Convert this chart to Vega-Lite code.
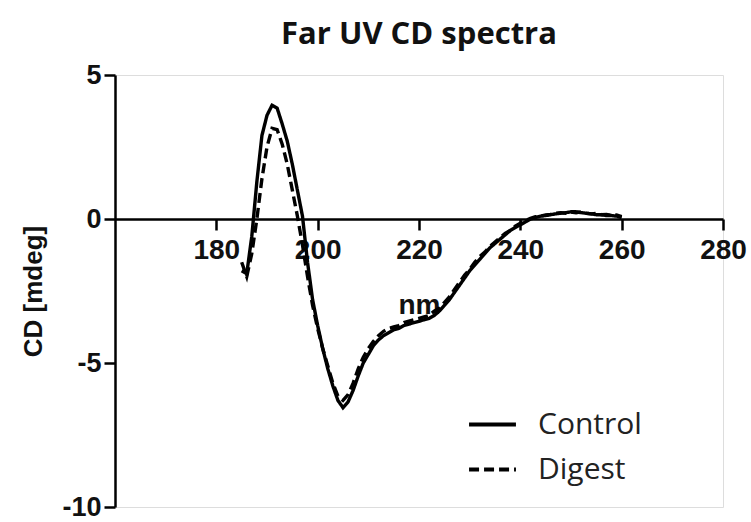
{
  "$schema": "https://vega.github.io/schema/vega-lite/v6.json",
  "autosize": {"type": "none"},
  "width": 608,
  "height": 432,
  "padding": {"left": 115, "top": 75, "right": 28, "bottom": 15},
  "background": "white",
  "title": {"text": "Far UV CD spectra", "font": "Open Sans", "fontSize": 31, "fontWeight": "bold", "color": "#111", "anchor": "middle", "offset": 10},
  "datasets": {
    "cd": [
      {"nm": 185, "cd": -1.8, "series": "Control"},
      {"nm": 186, "cd": -1.9, "series": "Control"},
      {"nm": 187, "cd": -0.6, "series": "Control"},
      {"nm": 188, "cd": 1.3, "series": "Control"},
      {"nm": 189, "cd": 2.9, "series": "Control"},
      {"nm": 190, "cd": 3.6, "series": "Control"},
      {"nm": 191, "cd": 3.95, "series": "Control"},
      {"nm": 192, "cd": 3.85, "series": "Control"},
      {"nm": 193, "cd": 3.3, "series": "Control"},
      {"nm": 194, "cd": 2.7, "series": "Control"},
      {"nm": 195, "cd": 1.9, "series": "Control"},
      {"nm": 196, "cd": 1.0, "series": "Control"},
      {"nm": 197, "cd": 0.1, "series": "Control"},
      {"nm": 198, "cd": -1.5, "series": "Control"},
      {"nm": 199, "cd": -2.8, "series": "Control"},
      {"nm": 200, "cd": -3.7, "series": "Control"},
      {"nm": 201, "cd": -4.5, "series": "Control"},
      {"nm": 202, "cd": -5.2, "series": "Control"},
      {"nm": 203, "cd": -5.8, "series": "Control"},
      {"nm": 204, "cd": -6.3, "series": "Control"},
      {"nm": 205, "cd": -6.55, "series": "Control"},
      {"nm": 206, "cd": -6.35, "series": "Control"},
      {"nm": 207, "cd": -5.95, "series": "Control"},
      {"nm": 208, "cd": -5.45, "series": "Control"},
      {"nm": 209, "cd": -5.0, "series": "Control"},
      {"nm": 210, "cd": -4.7, "series": "Control"},
      {"nm": 211, "cd": -4.4, "series": "Control"},
      {"nm": 212, "cd": -4.2, "series": "Control"},
      {"nm": 213, "cd": -4.05, "series": "Control"},
      {"nm": 214, "cd": -3.95, "series": "Control"},
      {"nm": 215, "cd": -3.85, "series": "Control"},
      {"nm": 216, "cd": -3.8, "series": "Control"},
      {"nm": 217, "cd": -3.7, "series": "Control"},
      {"nm": 218, "cd": -3.65, "series": "Control"},
      {"nm": 219, "cd": -3.6, "series": "Control"},
      {"nm": 220, "cd": -3.55, "series": "Control"},
      {"nm": 221, "cd": -3.5, "series": "Control"},
      {"nm": 222, "cd": -3.45, "series": "Control"},
      {"nm": 223, "cd": -3.35, "series": "Control"},
      {"nm": 224, "cd": -3.2, "series": "Control"},
      {"nm": 225, "cd": -3.0, "series": "Control"},
      {"nm": 226, "cd": -2.8, "series": "Control"},
      {"nm": 227, "cd": -2.55, "series": "Control"},
      {"nm": 228, "cd": -2.3, "series": "Control"},
      {"nm": 229, "cd": -2.05, "series": "Control"},
      {"nm": 230, "cd": -1.8, "series": "Control"},
      {"nm": 231, "cd": -1.6, "series": "Control"},
      {"nm": 232, "cd": -1.4, "series": "Control"},
      {"nm": 233, "cd": -1.2, "series": "Control"},
      {"nm": 234, "cd": -1.0, "series": "Control"},
      {"nm": 235, "cd": -0.85, "series": "Control"},
      {"nm": 236, "cd": -0.7, "series": "Control"},
      {"nm": 237, "cd": -0.55, "series": "Control"},
      {"nm": 238, "cd": -0.4, "series": "Control"},
      {"nm": 239, "cd": -0.3, "series": "Control"},
      {"nm": 240, "cd": -0.2, "series": "Control"},
      {"nm": 241, "cd": -0.1, "series": "Control"},
      {"nm": 242, "cd": 0.0, "series": "Control"},
      {"nm": 243, "cd": 0.05, "series": "Control"},
      {"nm": 244, "cd": 0.1, "series": "Control"},
      {"nm": 245, "cd": 0.12, "series": "Control"},
      {"nm": 246, "cd": 0.15, "series": "Control"},
      {"nm": 247, "cd": 0.18, "series": "Control"},
      {"nm": 248, "cd": 0.2, "series": "Control"},
      {"nm": 249, "cd": 0.22, "series": "Control"},
      {"nm": 250, "cd": 0.25, "series": "Control"},
      {"nm": 251, "cd": 0.25, "series": "Control"},
      {"nm": 252, "cd": 0.22, "series": "Control"},
      {"nm": 253, "cd": 0.2, "series": "Control"},
      {"nm": 254, "cd": 0.18, "series": "Control"},
      {"nm": 255, "cd": 0.15, "series": "Control"},
      {"nm": 256, "cd": 0.15, "series": "Control"},
      {"nm": 257, "cd": 0.12, "series": "Control"},
      {"nm": 258, "cd": 0.12, "series": "Control"},
      {"nm": 259, "cd": 0.1, "series": "Control"},
      {"nm": 260, "cd": 0.05, "series": "Control"},
      {"nm": 185, "cd": -1.5, "series": "Digest"},
      {"nm": 186, "cd": -2.0, "series": "Digest"},
      {"nm": 187, "cd": -1.2, "series": "Digest"},
      {"nm": 188, "cd": 0.0, "series": "Digest"},
      {"nm": 189, "cd": 1.4, "series": "Digest"},
      {"nm": 190, "cd": 2.5, "series": "Digest"},
      {"nm": 191, "cd": 3.15, "series": "Digest"},
      {"nm": 192, "cd": 3.1, "series": "Digest"},
      {"nm": 193, "cd": 2.6, "series": "Digest"},
      {"nm": 194, "cd": 1.9, "series": "Digest"},
      {"nm": 195, "cd": 1.0, "series": "Digest"},
      {"nm": 196, "cd": 0.1, "series": "Digest"},
      {"nm": 197, "cd": -0.9, "series": "Digest"},
      {"nm": 198, "cd": -2.0, "series": "Digest"},
      {"nm": 199, "cd": -3.0, "series": "Digest"},
      {"nm": 200, "cd": -3.8, "series": "Digest"},
      {"nm": 201, "cd": -4.5, "series": "Digest"},
      {"nm": 202, "cd": -5.1, "series": "Digest"},
      {"nm": 203, "cd": -5.7, "series": "Digest"},
      {"nm": 204, "cd": -6.15, "series": "Digest"},
      {"nm": 205, "cd": -6.3, "series": "Digest"},
      {"nm": 206, "cd": -6.1, "series": "Digest"},
      {"nm": 207, "cd": -5.7, "series": "Digest"},
      {"nm": 208, "cd": -5.2, "series": "Digest"},
      {"nm": 209, "cd": -4.8, "series": "Digest"},
      {"nm": 210, "cd": -4.5, "series": "Digest"},
      {"nm": 211, "cd": -4.25, "series": "Digest"},
      {"nm": 212, "cd": -4.05, "series": "Digest"},
      {"nm": 213, "cd": -3.9, "series": "Digest"},
      {"nm": 214, "cd": -3.8, "series": "Digest"},
      {"nm": 215, "cd": -3.75, "series": "Digest"},
      {"nm": 216, "cd": -3.7, "series": "Digest"},
      {"nm": 217, "cd": -3.6, "series": "Digest"},
      {"nm": 218, "cd": -3.55, "series": "Digest"},
      {"nm": 219, "cd": -3.5, "series": "Digest"},
      {"nm": 220, "cd": -3.45, "series": "Digest"},
      {"nm": 221, "cd": -3.4, "series": "Digest"},
      {"nm": 222, "cd": -3.35, "series": "Digest"},
      {"nm": 223, "cd": -3.2, "series": "Digest"},
      {"nm": 224, "cd": -3.1, "series": "Digest"},
      {"nm": 225, "cd": -2.9, "series": "Digest"},
      {"nm": 226, "cd": -2.7, "series": "Digest"},
      {"nm": 227, "cd": -2.45, "series": "Digest"},
      {"nm": 228, "cd": -2.2, "series": "Digest"},
      {"nm": 229, "cd": -1.95, "series": "Digest"},
      {"nm": 230, "cd": -1.75, "series": "Digest"},
      {"nm": 231, "cd": -1.5, "series": "Digest"},
      {"nm": 232, "cd": -1.3, "series": "Digest"},
      {"nm": 233, "cd": -1.15, "series": "Digest"},
      {"nm": 234, "cd": -0.95, "series": "Digest"},
      {"nm": 235, "cd": -0.8, "series": "Digest"},
      {"nm": 236, "cd": -0.65, "series": "Digest"},
      {"nm": 237, "cd": -0.5, "series": "Digest"},
      {"nm": 238, "cd": -0.4, "series": "Digest"},
      {"nm": 239, "cd": -0.25, "series": "Digest"},
      {"nm": 240, "cd": -0.15, "series": "Digest"},
      {"nm": 241, "cd": -0.05, "series": "Digest"},
      {"nm": 242, "cd": 0.02, "series": "Digest"},
      {"nm": 243, "cd": 0.08, "series": "Digest"},
      {"nm": 244, "cd": 0.1, "series": "Digest"},
      {"nm": 245, "cd": 0.14, "series": "Digest"},
      {"nm": 246, "cd": 0.16, "series": "Digest"},
      {"nm": 247, "cd": 0.2, "series": "Digest"},
      {"nm": 248, "cd": 0.22, "series": "Digest"},
      {"nm": 249, "cd": 0.2, "series": "Digest"},
      {"nm": 250, "cd": 0.24, "series": "Digest"},
      {"nm": 251, "cd": 0.22, "series": "Digest"},
      {"nm": 252, "cd": 0.25, "series": "Digest"},
      {"nm": 253, "cd": 0.2, "series": "Digest"},
      {"nm": 254, "cd": 0.18, "series": "Digest"},
      {"nm": 255, "cd": 0.2, "series": "Digest"},
      {"nm": 256, "cd": 0.15, "series": "Digest"},
      {"nm": 257, "cd": 0.16, "series": "Digest"},
      {"nm": 258, "cd": 0.12, "series": "Digest"},
      {"nm": 259, "cd": 0.14, "series": "Digest"},
      {"nm": 260, "cd": 0.08, "series": "Digest"}
    ]
  },
  "data": {"name": "cd"},
  "mark": {"type": "line", "strokeWidth": 3.4, "color": "black"},
  "encoding": {
    "x": {
      "field": "nm", "type": "quantitative",
      "scale": {"domain": [160, 280], "nice": false, "zero": false},
      "axis": {
        "title": "nm", "values": [180, 200, 220, 240, 260, 280],
        "offset": -288, "grid": false,
        "domainColor": "black", "domainWidth": 2.5,
        "tickColor": "black", "tickWidth": 2.5, "tickSize": 11,
        "labelFont": "Liberation Sans", "labelFontWeight": "bold", "labelFontSize": 28, "labelColor": "#111",
        "labelPadding": 6, "labelFlush": false,
        "titleFont": "Liberation Sans", "titleFontWeight": "bold", "titleFontSize": 28, "titleColor": "#111",
        "titlePadding": 27
      }
    },
    "y": {
      "field": "cd", "type": "quantitative",
      "scale": {"domain": [-10, 5], "nice": false},
      "axis": {
        "title": "CD [mdeg]", "values": [-10, -5, 0, 5], "grid": false,
        "labelExpr": "datum.value < 0 ? '-' + abs(datum.value) : '' + datum.value",
        "domainColor": "black", "domainWidth": 2.5,
        "tickColor": "black", "tickWidth": 2.5, "tickSize": 11,
        "labelFont": "Liberation Sans", "labelFontWeight": "bold", "labelFontSize": 27, "labelColor": "#111",
        "labelPadding": 3,
        "titleFont": "Liberation Sans", "titleFontWeight": "bold", "titleFontSize": 26, "titleColor": "#111",
        "titlePadding": 15
      }
    },
    "strokeDash": {
      "field": "series", "type": "nominal",
      "scale": {"domain": ["Control", "Digest"], "range": [[1, 0], [10, 5]]},
      "legend": {
        "title": null, "orient": "none", "legendX": 352, "legendY": 324,
        "symbolType": "stroke", "symbolSize": 2200, "symbolStrokeWidth": 4, "symbolStrokeColor": "black",
        "labelFont": "Open Sans", "labelFontSize": 30, "labelColor": "#222", "labelOffset": 20,
        "rowPadding": 4
      }
    }
  }
}
